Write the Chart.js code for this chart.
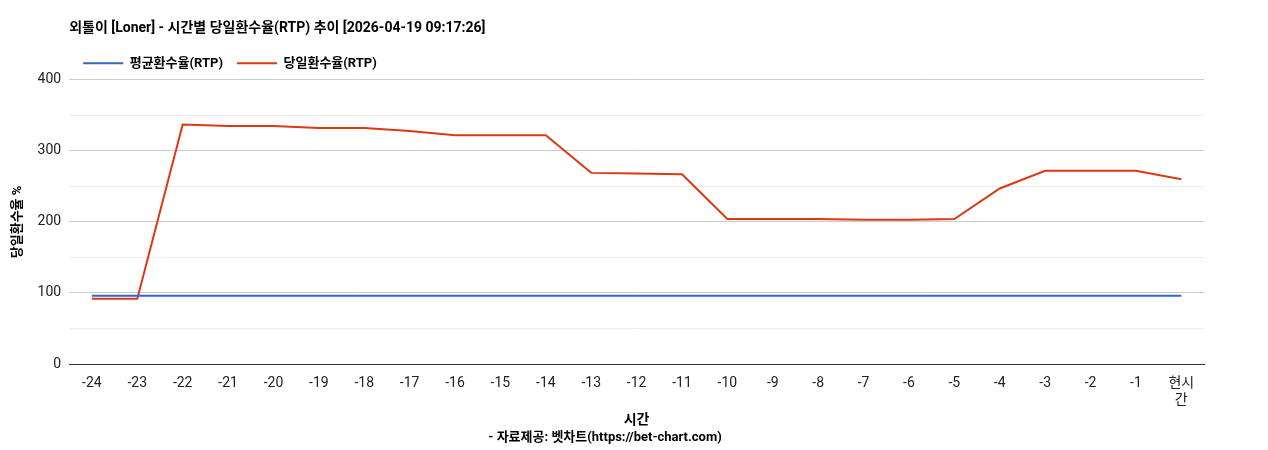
<!DOCTYPE html>
<html>
<head>
<meta charset="utf-8">
<script src="https://cdn.jsdelivr.net/npm/chart.js@4/dist/chart.umd.min.js"></script>
<style>
  html, body { margin: 0; padding: 0; background: #fff; }
  #wrap { width: 1268px; height: 450px; }
</style>
</head>
<body>
<div id="wrap"><canvas id="rtpChart"></canvas></div>
<script>
// 시간 라벨
const hours = ['-24','-23','-22','-21','-20','-19','-18','-17','-16','-15','-14','-13','-12',
  '-11','-10','-9','-8','-7','-6','-5','-4','-3','-2','-1',['현시','간']];

// 평균환수율
const avgRtp = [96,96,96,96,96,96,96,96,96,96,96,96,96,96,96,96,96,96,96,96,96,96,96,96,96];

// 당일환수율
const dailyRtp = [92,92,337,335,335,332,332,328,322,322,322,269,268,267,204,204,204,203,203,204,247,272,272,272,260];

const yTicks = [0, 100, 200, 300, 400];

Chart.defaults.font.family = "Roboto, 'Noto Sans CJK KR', sans-serif";
Chart.defaults.color = '#222';

// 제목과 범례를 그래프 영역 왼쪽에 맞춤
const alignHeader = {
    id: 'alignHeader',
    afterLayout(chart) {
        const x = chart.chartArea.left;
        [chart.titleBlock, chart.legend].forEach(function(b) {
            if (b) { const w = b.right - b.left; b.left = x; b.right = x + w; }
        });
    }
};

new Chart(document.getElementById('rtpChart').getContext('2d'), {
    type: 'line',
    data: {
        labels: hours,
        datasets: [{
            label: '평균환수율(RTP)',
            data: avgRtp,
            borderColor: '#3366cc',
            backgroundColor: '#3366cc',
            borderWidth: 2,
            pointRadius: 0,
            tension: 0
        }, {
            label: '당일환수율(RTP)',
            data: dailyRtp,
            borderColor: '#dc3912',
            backgroundColor: '#dc3912',
            borderWidth: 2,
            pointRadius: 0,
            tension: 0
        }]
    },
    plugins: [alignHeader],
    options: {
        responsive: true,
        maintainAspectRatio: false,
        animation: false,
        layout: { padding: { left: 6, right: 64, top: 20, bottom: 4 } },
        plugins: {
            title: {
                display: true,
                text: '외톨이 [Loner] - 시간별 당일환수율(RTP) 추이 [2026-04-19 09:17:26]',
                align: 'start',
                font: { size: 14, weight: 'bold' },
                color: '#000',
                padding: { top: 0, bottom: 6 }
            },
            subtitle: {
                display: true,
                text: '- 자료제공: 벳차트(https://bet-chart.com)',
                position: 'bottom',
                font: { size: 13, weight: 'bold' },
                color: '#000',
                padding: 0
            },
            legend: {
                align: 'start',
                labels: {
                    usePointStyle: true,
                    pointStyle: 'line',
                    pointStyleWidth: 40,
                    boxHeight: 2,
                    font: { size: 13, weight: 'bold' },
                    color: '#000',
                    padding: 14
                }
            },
            tooltip: { enabled: false }
        },
        scales: {
            x: {
                offset: true,
                grid: { display: false },
                border: { color: '#333' },
                ticks: { maxRotation: 0, autoSkip: false, font: { size: 14 }, color: '#222' },
                title: { display: true, text: '시간', font: { size: 14, weight: 'bold' }, color: '#000', padding: { top: 0, bottom: 2 } }
            },
            y: {
                min: 0,
                max: 400,
                afterBuildTicks: function(axis) {
                    const t = [];
                    for (let v = 0; v <= 400; v += 50) t.push({ value: v });
                    axis.ticks = t;
                },
                grid: {
                    color: function(ctx) {
                        return yTicks.includes(ctx.tick.value) ? '#cccccc' : '#ebebeb';
                    },
                    drawTicks: false
                },
                border: { display: false },
                ticks: {
                    padding: 8,
                    font: { size: 14 },
                    color: '#222',
                    callback: function(v) { return yTicks.includes(v) ? v : ''; }
                },
                title: { display: true, text: '당일환수율 %', font: { size: 13, weight: 'bold' }, color: '#000' }
            }
        }
    }
});
</script>
</body>
</html>
